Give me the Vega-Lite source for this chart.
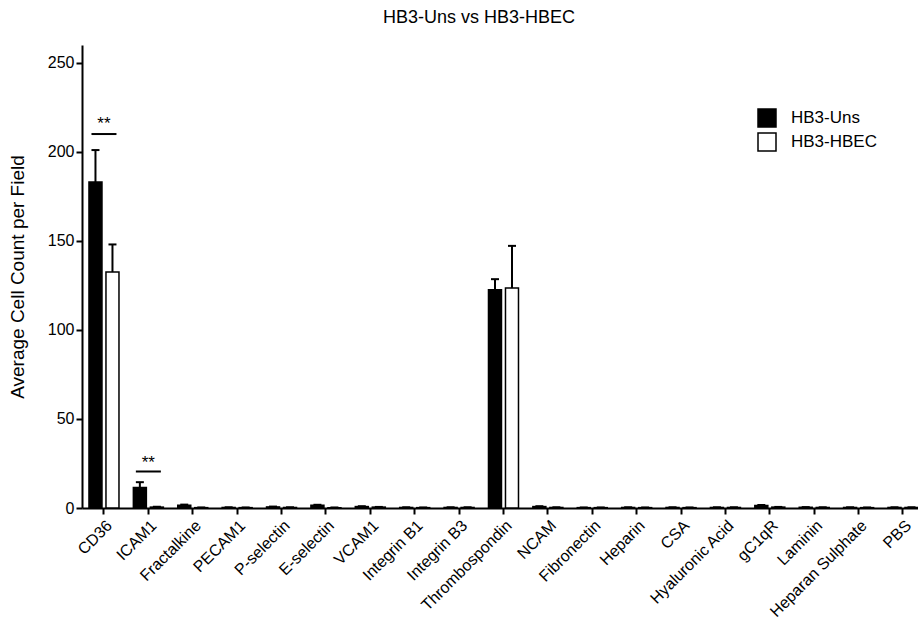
{
  "$schema": "https://vega.github.io/schema/vega-lite/v6.json",
  "autosize": {"type": "none"},
  "padding": {"left": 82, "top": 45, "right": 0, "bottom": 113},
  "width": 836,
  "height": 463,
  "title": {"text": "HB3-Uns vs HB3-HBEC", "fontSize": 18, "fontWeight": "normal", "font": "Liberation Sans", "color": "black", "anchor": "middle", "dx": -21, "offset": 18},
  "config": {
    "view": {"stroke": null},
    "font": "Liberation Sans",
    "axis": {"domainColor": "black", "domainWidth": 2, "tickColor": "black", "tickWidth": 2, "labelColor": "black", "titleColor": "black", "grid": false, "labelFont": "Liberation Sans", "titleFont": "Liberation Sans"}
  },
  "datasets": {
    "bars": [
      {"antigen": "CD36", "group": "HB3-Uns", "value": 183, "hi": 201},
      {"antigen": "CD36", "group": "HB3-HBEC", "value": 132.5, "hi": 148},
      {"antigen": "ICAM1", "group": "HB3-Uns", "value": 11.5, "hi": 14.5},
      {"antigen": "ICAM1", "group": "HB3-HBEC", "value": 0.5, "hi": 0.7},
      {"antigen": "Fractalkine", "group": "HB3-Uns", "value": 1.6, "hi": 1.9},
      {"antigen": "Fractalkine", "group": "HB3-HBEC", "value": 0.2, "hi": 0.3},
      {"antigen": "PECAM1", "group": "HB3-Uns", "value": 0.3, "hi": 0.4},
      {"antigen": "PECAM1", "group": "HB3-HBEC", "value": 0.2, "hi": 0.3},
      {"antigen": "P-selectin", "group": "HB3-Uns", "value": 0.6, "hi": 0.8},
      {"antigen": "P-selectin", "group": "HB3-HBEC", "value": 0.3, "hi": 0.4},
      {"antigen": "E-selectin", "group": "HB3-Uns", "value": 1.5, "hi": 1.8},
      {"antigen": "E-selectin", "group": "HB3-HBEC", "value": 0.2, "hi": 0.3},
      {"antigen": "VCAM1", "group": "HB3-Uns", "value": 0.8, "hi": 1.0},
      {"antigen": "VCAM1", "group": "HB3-HBEC", "value": 0.5, "hi": 0.6},
      {"antigen": "Integrin B1", "group": "HB3-Uns", "value": 0.3, "hi": 0.4},
      {"antigen": "Integrin B1", "group": "HB3-HBEC", "value": 0.2, "hi": 0.3},
      {"antigen": "Integrin B3", "group": "HB3-Uns", "value": 0.3, "hi": 0.4},
      {"antigen": "Integrin B3", "group": "HB3-HBEC", "value": 0.3, "hi": 0.4},
      {"antigen": "Thrombospondin", "group": "HB3-Uns", "value": 122.5, "hi": 128.5},
      {"antigen": "Thrombospondin", "group": "HB3-HBEC", "value": 123.5, "hi": 147.2},
      {"antigen": "NCAM", "group": "HB3-Uns", "value": 0.8, "hi": 1.0},
      {"antigen": "NCAM", "group": "HB3-HBEC", "value": 0.3, "hi": 0.4},
      {"antigen": "Fibronectin", "group": "HB3-Uns", "value": 0.2, "hi": 0.3},
      {"antigen": "Fibronectin", "group": "HB3-HBEC", "value": 0.2, "hi": 0.3},
      {"antigen": "Heparin", "group": "HB3-Uns", "value": 0.3, "hi": 0.4},
      {"antigen": "Heparin", "group": "HB3-HBEC", "value": 0.2, "hi": 0.3},
      {"antigen": "CSA", "group": "HB3-Uns", "value": 0.3, "hi": 0.4},
      {"antigen": "CSA", "group": "HB3-HBEC", "value": 0.2, "hi": 0.3},
      {"antigen": "Hyaluronic Acid", "group": "HB3-Uns", "value": 0.3, "hi": 0.4},
      {"antigen": "Hyaluronic Acid", "group": "HB3-HBEC", "value": 0.3, "hi": 0.4},
      {"antigen": "gC1qR", "group": "HB3-Uns", "value": 1.4, "hi": 1.7},
      {"antigen": "gC1qR", "group": "HB3-HBEC", "value": 0.5, "hi": 0.6},
      {"antigen": "Laminin", "group": "HB3-Uns", "value": 0.4, "hi": 0.5},
      {"antigen": "Laminin", "group": "HB3-HBEC", "value": 0.3, "hi": 0.4},
      {"antigen": "Heparan Sulphate", "group": "HB3-Uns", "value": 0.3, "hi": 0.4},
      {"antigen": "Heparan Sulphate", "group": "HB3-HBEC", "value": 0.2, "hi": 0.3},
      {"antigen": "PBS", "group": "HB3-Uns", "value": 0.3, "hi": 0.4},
      {"antigen": "PBS", "group": "HB3-HBEC", "value": 0.3, "hi": 0.4}
    ],
    "sig": [
      {"antigen": "CD36", "line": 210, "star": 215.5, "label": "**"},
      {"antigen": "ICAM1", "line": 20.5, "star": 25.5, "label": "**"}
    ]
  },
  "encoding": {
    "x": {
      "field": "antigen", "type": "nominal",
      "sort": ["CD36", "ICAM1", "Fractalkine", "PECAM1", "P-selectin", "E-selectin", "VCAM1", "Integrin B1", "Integrin B3", "Thrombospondin", "NCAM", "Fibronectin", "Heparin", "CSA", "Hyaluronic Acid", "gC1qR", "Laminin", "Heparan Sulphate", "PBS"],
      "scale": {"paddingInner": 0.324, "paddingOuter": 0.0785, "align": 1},
      "axis": {"title": null, "labelAngle": -45, "labelAlign": "right", "labelBaseline": "top", "labelFontSize": 16, "tickSize": 6, "labelPadding": 3, "domainWidth": 2}
    }
  },
  "layer": [
    {
      "data": {"name": "bars"},
      "mark": {"type": "bar", "stroke": "black", "strokeWidth": 1.5},
      "encoding": {
        "xOffset": {"field": "group", "type": "nominal", "sort": ["HB3-Uns", "HB3-HBEC"], "scale": {"paddingInner": 0.235, "paddingOuter": 0}},
        "y": {"field": "value", "type": "quantitative", "scale": {"domain": [0, 250]},
          "axis": {"title": "Average Cell Count per Field", "titleFontSize": 19, "titleFontWeight": "normal", "labelFontSize": 16, "values": [0, 50, 100, 150, 200, 250], "tickSize": 6, "labelPadding": 2, "titlePadding": 20}},
        "fill": {"field": "group", "type": "nominal", "sort": ["HB3-Uns", "HB3-HBEC"],
          "scale": {"domain": ["HB3-Uns", "HB3-HBEC"], "range": ["black", "white"]},
          "legend": {"title": null, "orient": "none", "legendX": 675, "legendY": 63, "symbolType": "square", "symbolSize": 324, "symbolStrokeColor": "black", "symbolStrokeWidth": 1.5, "labelFontSize": 17, "labelColor": "black", "labelFont": "Liberation Sans", "rowPadding": 0, "labelOffset": 14}}
      }
    },
    {
      "data": {"name": "bars"},
      "mark": {"type": "rule", "strokeWidth": 2, "color": "black"},
      "encoding": {
        "xOffset": {"field": "group", "type": "nominal", "sort": ["HB3-Uns", "HB3-HBEC"]},
        "y": {"field": "value", "type": "quantitative"},
        "y2": {"field": "hi"}
      }
    },
    {
      "data": {"name": "bars"},
      "mark": {"type": "tick", "orient": "horizontal", "size": 8, "thickness": 2, "color": "black", "opacity": 1},
      "encoding": {
        "xOffset": {"field": "group", "type": "nominal", "sort": ["HB3-Uns", "HB3-HBEC"]},
        "y": {"field": "hi", "type": "quantitative"}
      }
    },
    {
      "data": {"name": "sig"},
      "mark": {"type": "tick", "orient": "horizontal", "size": 25, "thickness": 2, "color": "black", "opacity": 1},
      "encoding": {
        "y": {"field": "line", "type": "quantitative"}
      }
    },
    {
      "data": {"name": "sig"},
      "mark": {"type": "text", "fontSize": 17, "baseline": "middle", "align": "center", "color": "black"},
      "encoding": {
        "y": {"field": "star", "type": "quantitative"},
        "text": {"field": "label"}
      }
    }
  ]
}
